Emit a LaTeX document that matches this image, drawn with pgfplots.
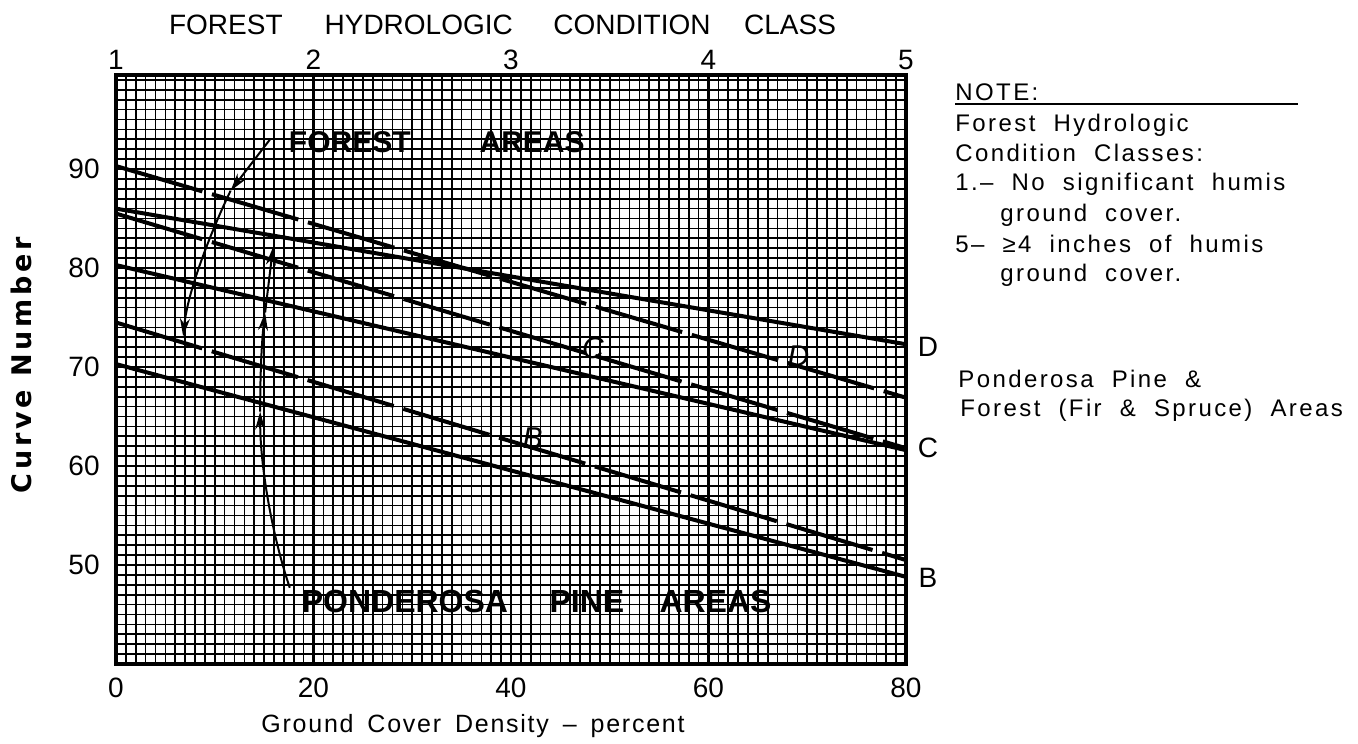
\documentclass[border=0pt]{standalone}
\usepackage{fontspec}
\setmainfont{Liberation Sans}
\newfontfamily\trackfont[LetterSpace=14]{DejaVu Sans}
\newfontfamily\notefont[LetterSpace=10,WordSpace=2]{Liberation Sans}
\newfontfamily\xlabfont[LetterSpace=7,WordSpace=1.6]{Liberation Sans}
\usepackage{pgfplots}
\pgfplotsset{compat=1.18}
\usetikzlibrary{arrows.meta}

\begin{document}
\begin{tikzpicture}[x=1pt,y=1pt]
\path (-58,-38.5) rectangle (621,332);
\begin{axis}[
  at={(0,0)}, anchor=south west, scale only axis,
  width=395pt, height=294.5pt,
  xmin=0, xmax=80, ymin=40, ymax=99.5,
  xtick={0,10,...,80}, xticklabels={0,,20,,40,,60,,80},
  ytick={40,50,...,90}, yticklabels={,50,60,70,80,90},
  minor xtick={0,1,...,80}, minor ytick={40,41,...,99},
  grid=both,
  minor grid style={black, line width=0.85pt},
  major grid style={black, line width=1.05pt},
  major tick length=0pt, minor tick length=0pt,
  axis line style={line width=1.6pt},
  tick label style={font=\fontsize{14}{16}\selectfont},
  /pgf/number format/assume math mode=true,
  xticklabel style={inner sep=0pt, yshift=-7pt},
  yticklabel style={inner sep=0pt, xshift=-8pt},
]
% Forest areas (dashed) and Ponderosa pine areas (solid)
\addplot[black, line width=2pt] coordinates {(0,86.0) (80,72.3)};
\addplot[black, line width=2pt, dash pattern=on 45pt off 5pt] coordinates {(0,90.3) (80,66.9)};
\addplot[black, line width=2pt] coordinates {(0,80.3) (80,61.6)};
\addplot[black, line width=2pt, dash pattern=on 45pt off 5pt] coordinates {(0,85.5) (80,61.8)};
\addplot[black, line width=2pt] coordinates {(0,70.3) (80,48.8)};
\addplot[black, line width=2pt, dash pattern=on 45pt off 5pt] coordinates {(0,74.5) (80,50.5)};

\node[anchor=base west, font=\bfseries\fontsize{15}{18}\selectfont] at (axis cs:16.8,91.7) {FOREST\hspace{2.3em}AREAS};
\node[anchor=base west, font=\bfseries\fontsize{16}{18}\selectfont] at (axis cs:18.1,45.25) {PONDEROSA\hspace{1.3em}PINE\hspace{1.1em}AREAS};

\node[font=\itshape\fontsize{15}{16}\selectfont] at (axis cs:48.3,71.9) {C};
\node[font=\itshape\fontsize{15}{16}\selectfont] at (axis cs:69.1,71.1) {D};
\node[font=\itshape\fontsize{15}{16}\selectfont] at (axis cs:42.2,62.8) {B};

\draw[line width=1pt, -{Stealth[length=9pt,width=5pt]}] (axis cs:15.6,93.0) -- (axis cs:11.6,87.8);
\draw[line width=1pt, -{Stealth[length=9pt,width=5pt]}] (axis cs:11.6,87.8) .. controls (axis cs:10.0,84.5) and (axis cs:7.3,78.0) .. (axis cs:6.8,73.1);

\draw[line width=1pt, -{Stealth[length=9pt,width=5pt]}] (axis cs:17.6,47.7) .. controls (axis cs:15.8,53.0) and (axis cs:14.6,60.0) .. (axis cs:14.6,65.5);
\draw[line width=1pt, -{Stealth[length=9pt,width=5pt]}] (axis cs:14.6,65.5) .. controls (axis cs:14.6,70.0) and (axis cs:14.8,73.0) .. (axis cs:15.1,75.5);
\draw[line width=1pt, -{Stealth[length=9pt,width=5pt]}] (axis cs:15.1,75.5) -- (axis cs:15.9,82.1);
\end{axis}

\begin{axis}[
  at={(0,0)}, anchor=south west, scale only axis,
  width=395pt, height=294.5pt,
  xmin=1, xmax=5, ymin=0, ymax=1,
  axis x line*=top, axis y line=none,
  xtick={1,2,3,4,5},
  major tick length=0pt,
  axis line style={line width=1.6pt},
  tick label style={font=\fontsize{14}{16}\selectfont},
  /pgf/number format/assume math mode=true,
  xticklabel style={anchor=south, inner sep=0pt, yshift=2.5pt},
]
\addplot[draw=none] coordinates {(1,0) (5,1)};
\end{axis}

% titles and labels
\node[anchor=base west, font=\fontsize{14}{16}\selectfont] at (23,314.5)
  {FOREST\hspace{1.5em}HYDROLOGIC\hspace{1.45em}CONDITION\hspace{1.2em}CLASS};
\node[anchor=base, font=\xlabfont\fontsize{12.5}{14}\selectfont] at (178.5,-34)
  {Ground Cover Density – percent};
\node[rotate=90, font=\trackfont\bfseries\fontsize{13.5}{15}\selectfont] at (-47.5,149.5) {Curve Number};

% curve letters at right
\node[font=\fontsize{14}{16}\selectfont] at (406,158.5) {D};
\node[font=\fontsize{14}{16}\selectfont] at (406,108) {C};
\node[font=\fontsize{14}{16}\selectfont] at (406,43) {B};

% note
\begin{scope}[every node/.style={anchor=base west, inner sep=0pt, font=\notefont\fontsize{12}{14}\selectfont}]
\node at (419.5,281.5) {NOTE:};
\draw[line width=1pt] (419.5,280) -- (591,280);
\node at (419.5,266.5) {Forest Hydrologic};
\node at (419.5,251.5) {Condition Classes:};
\node at (419.5,237) {1.– No significant humis};
\node at (442,221.5) {ground cover.};
\node at (419.5,206) {5– ≥4 inches of humis};
\node at (442,191.5) {ground cover.};
\node at (421,138.5) {Ponderosa Pine \&};
\node at (422,124) {Forest (Fir \& Spruce) Areas};
\end{scope}
\end{tikzpicture}
\end{document}
